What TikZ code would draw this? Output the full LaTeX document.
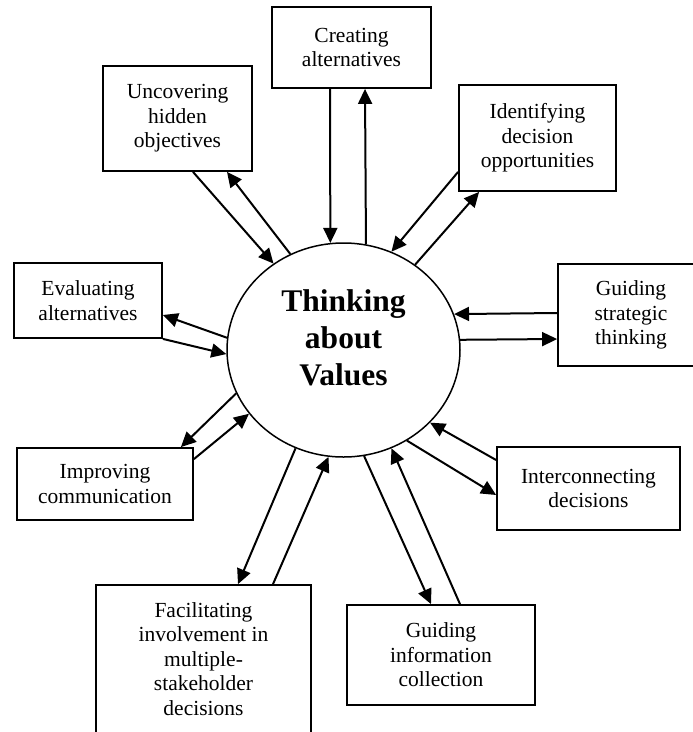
\documentclass[tikz,border=0pt]{standalone}
\usepackage{fontspec}
\setmainfont{Liberation Serif}
\usetikzlibrary{shapes.geometric,arrows.meta}

\tikzset{
  box/.style={draw, rectangle, line width=1.8pt, inner sep=0pt, align=center, font=\fontsize{21.5}{24.5}\selectfont},
  hub/.style={draw, ellipse, line width=1.5pt, inner sep=0pt, minimum width=233pt, minimum height=214pt},
  link/.style={-{Triangle[length=15pt,width=14pt]}, line width=2pt}
}

\begin{document}
\begin{tikzpicture}[x=1pt, y=-1pt]
  \clip (0,0) rectangle (693,732);

  % centre
  \node[hub] (tv) at (343.5,350) {};
  \node[font=\fontsize{31.5}{37}\selectfont\bfseries, align=center] (tvtext) at ([yshift=12pt]tv.center) {Thinking\\about\\Values};

  % boxes
  \node[box, minimum width=159pt, minimum height=81pt] (crea) at (351.5,47.5) {Creating\\alternatives};
  \node[box, minimum width=149pt, minimum height=105pt] (uncov) at (177.5,118.5) {Uncovering\\hidden\\objectives};
  \node[box, minimum width=157pt, minimum height=106pt] (ident) at (537.5,138) {Identifying\\decision\\opportunities};
  \node[box, minimum width=146pt, minimum height=102pt] (strat) at (631,315) {Guiding\\strategic\\thinking};
  \node[box, minimum width=148pt, minimum height=75pt] (eval) at (88,300.5) {Evaluating\\alternatives};
  \node[box, minimum width=176pt, minimum height=72pt] (impr) at (105,484) {Improving\\communication};
  \node[box, minimum width=183pt, minimum height=83pt] (inter) at (588.5,488.5) {Interconnecting\\decisions};
  \node[box, minimum width=215pt, minimum height=148pt] (facil) at (203.5,659) {Facilitating\\involvement in\\multiple-\\stakeholder\\decisions};
  \node[box, minimum width=188pt, minimum height=100pt] (info) at (441,655) {Guiding\\information\\collection};

  % Connections
  \draw[link] ([xshift=-21.5pt]crea.south) -- (tv.97.2);
  \draw[link] (tv.78.5) -- ([xshift=13.5pt]crea.south);
  \draw[link] ([xshift=15.5pt]uncov.south) -- (tv.129.1);
  \draw[link] (tv.119.8) -- ([xshift=49.5pt]uncov.south);
  \draw[link] ([yshift=20pt]ident.south west) -- (tv.64.1);
  \draw[link] (tv.50.1) -- ([xshift=21pt]ident.south west);
  \draw[link] ([yshift=2pt]strat.west) -- (tv.18.7);
  \draw[link] (tv.5.4) -- ([yshift=-24pt]strat.west);
  \draw[link] (tv.174.1) -- ([yshift=-14.5pt]eval.east);
  \draw[link] (eval.south east) -- (tv.182.5);
  \draw[link] (tv.202.9) -- ([xshift=-13pt]impr.north east);
  \draw[link] ([yshift=-12pt]impr.north east) -- (tv.214.5);
  \draw[link] ([yshift=28.5pt]inter.west) -- (tv.320);
  \draw[link] (tv.305.6) -- ([yshift=-6.5pt]inter.west);
  \draw[link] (tv.244.9) -- ([xshift=34.5pt]facil.north);
  \draw[link] ([xshift=69.5pt]facil.north) -- (tv.262.9);
  \draw[link] (tv.281.4) -- ([xshift=-10pt]info.north);
  \draw[link] ([xshift=19pt]info.north) -- (tv.296.3);
\end{tikzpicture}
\end{document}
